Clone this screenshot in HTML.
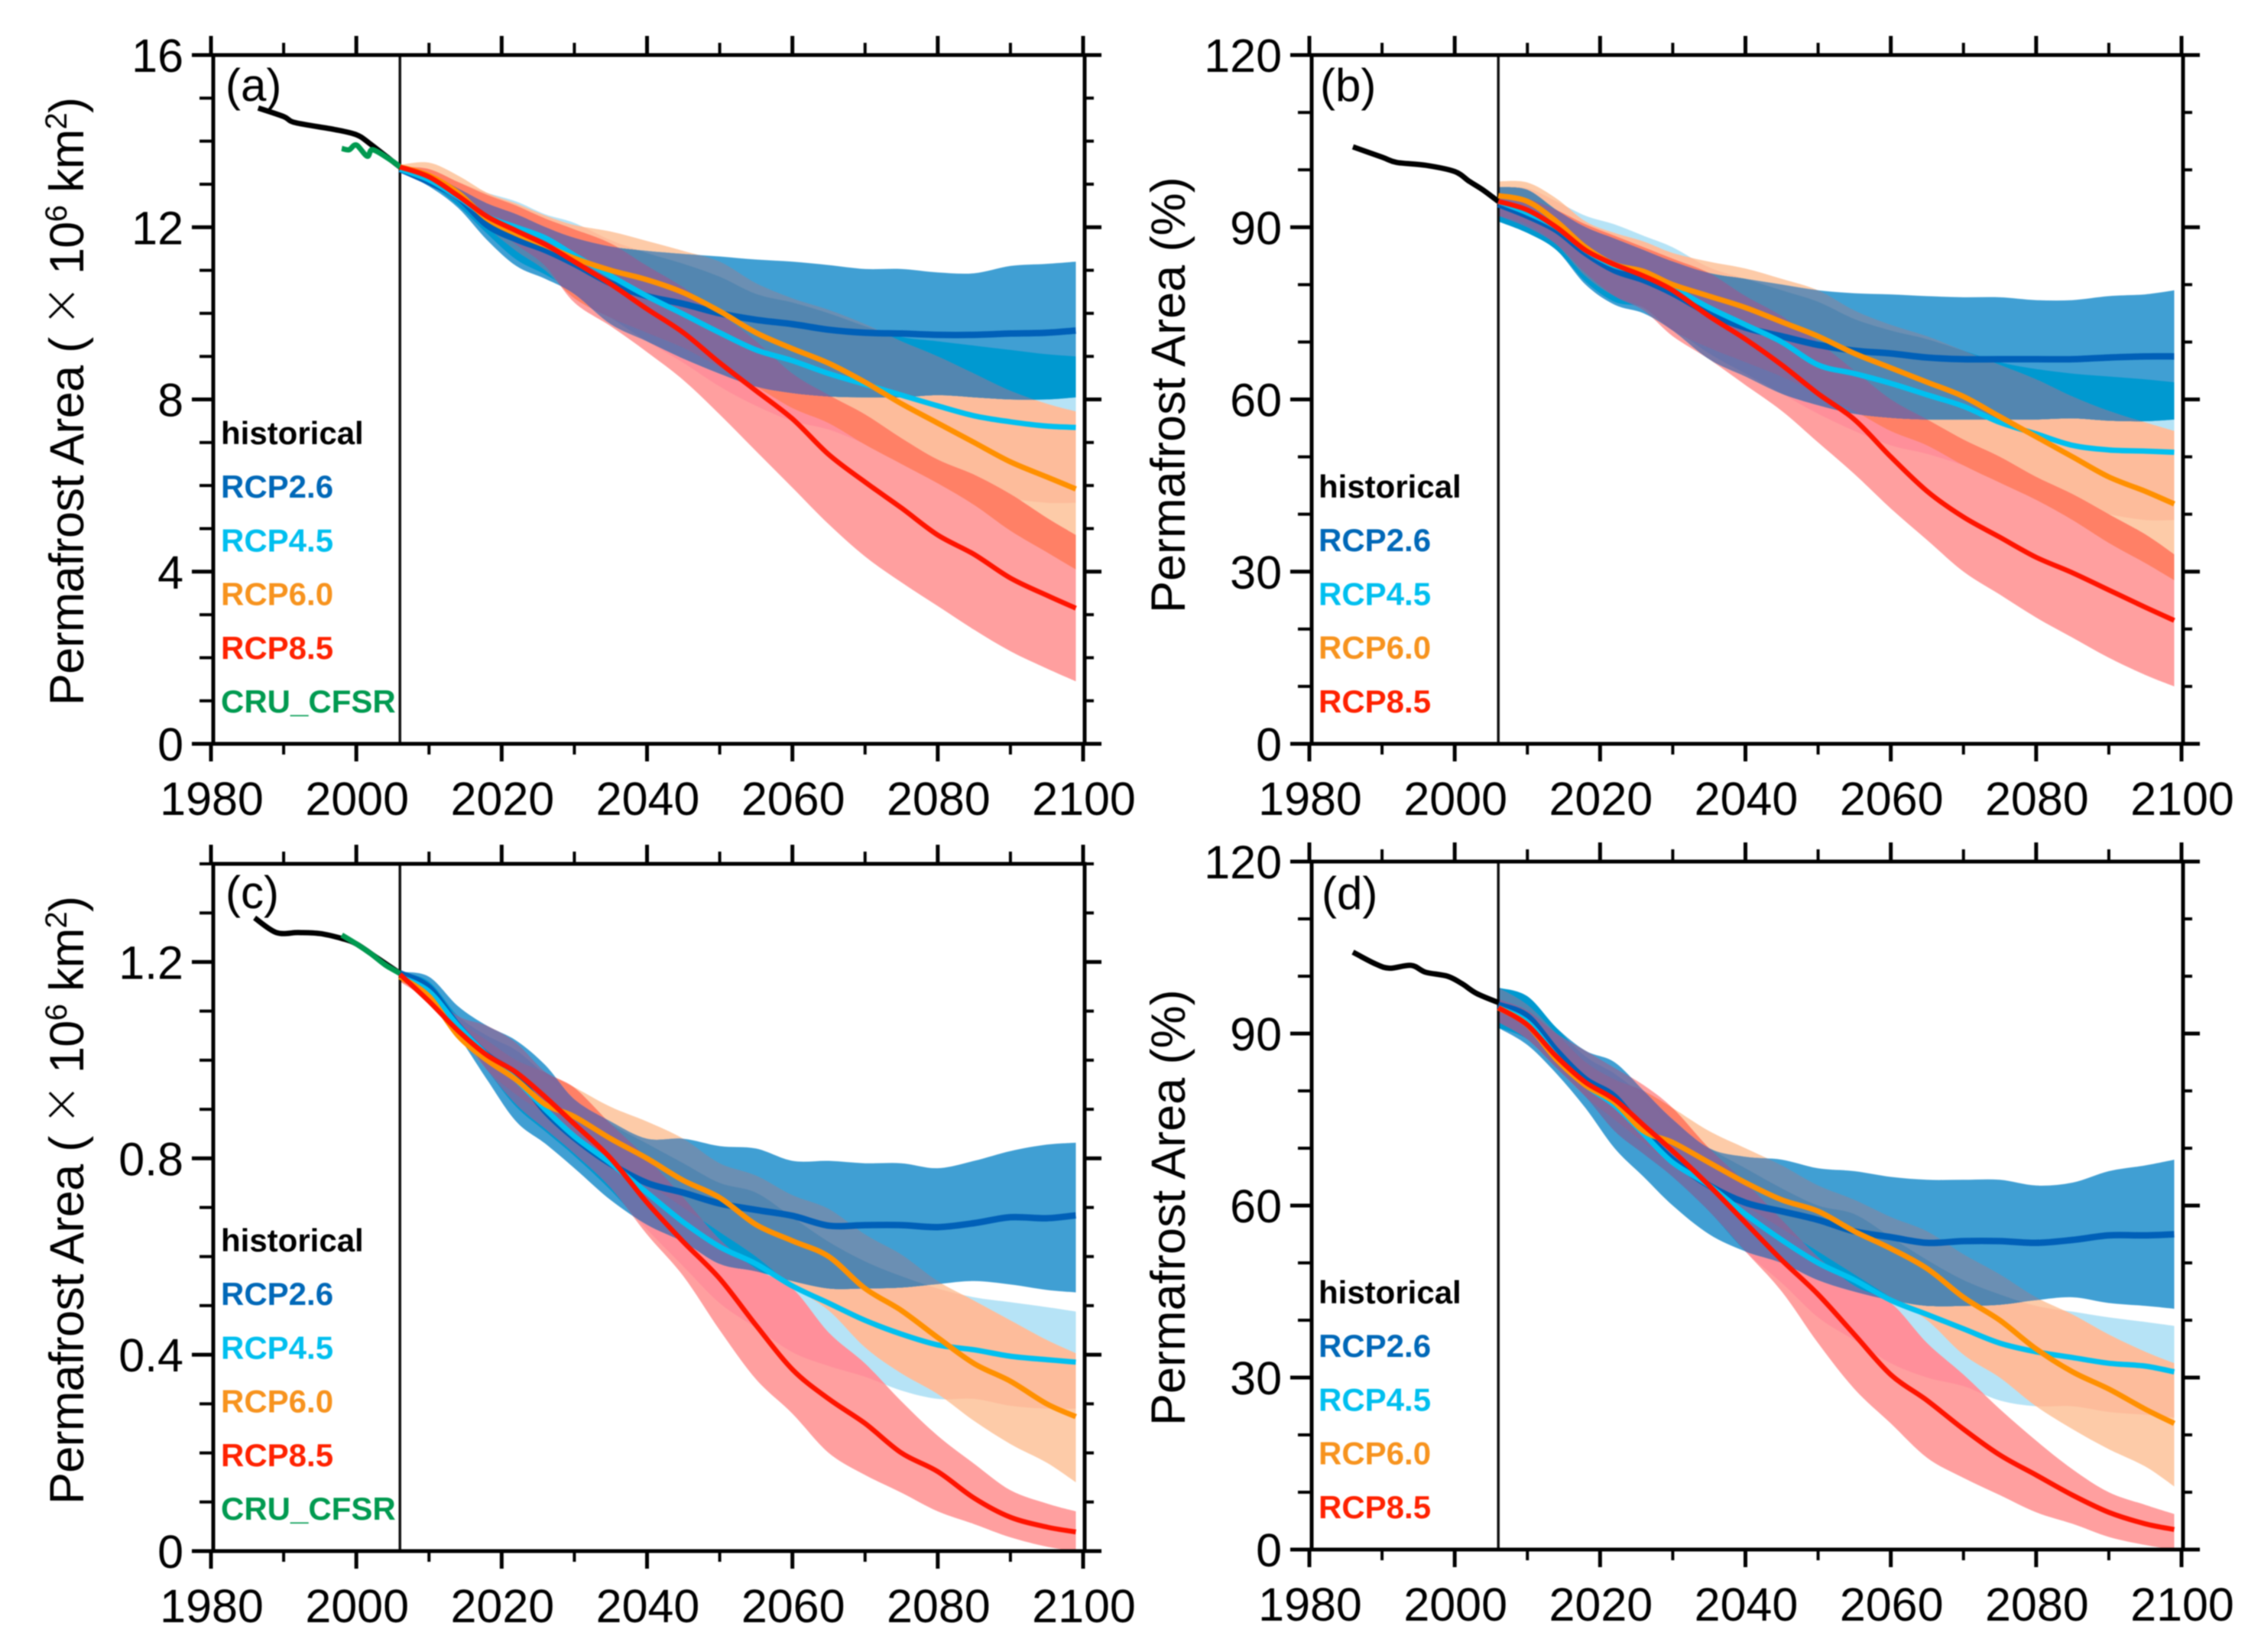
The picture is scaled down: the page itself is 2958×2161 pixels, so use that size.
<!DOCTYPE html>
<html lang="en">
<head>
<meta charset="utf-8">
<title>Permafrost area projections</title>
<style>
html,body{margin:0;padding:0;background:#fff;}
#fig{display:block;width:2958px;height:2161px;filter:blur(0.8px);}
text{font-family:"Liberation Sans",Arial,sans-serif;fill:#000;}
.lg{font-weight:bold;font-size:42px;}
.tk{font-size:61px;}
.yt{font-size:63px;}
.pl{font-size:60px;}
</style>
</head>
<body>
<svg id="fig" xmlns="http://www.w3.org/2000/svg" width="2958" height="2161" viewBox="0 0 2958 2161"></svg>
<script>
// ---------- shared data ----------
const years = [2006,2010,2014,2018,2022,2026,2030,2035,2040,2045,2050,2055,2060,2065,2070,2075,2080,2085,2090,2095,2099];
const xTickLabels = ['1980','2000','2020','2040','2060','2080','2100'];

// ---------- panel (a) ----------
const aRcp26 = [13.35,13.05,12.7,12.05,11.72,11.47,11.15,10.7,10.4,10.22,10.0,9.85,9.75,9.62,9.55,9.53,9.5,9.5,9.53,9.55,9.6];
const aRcp45 = [13.35,13.1,12.7,12.25,12.0,11.75,11.35,10.87,10.4,9.98,9.55,9.15,8.9,8.6,8.35,8.1,7.85,7.62,7.48,7.38,7.35];
const aRcp60 = [13.4,13.2,12.8,12.2,11.85,11.58,11.28,11.0,10.78,10.48,10.05,9.55,9.18,8.84,8.4,7.9,7.45,7.0,6.55,6.2,5.92];
const aRcp85 = [13.4,13.17,12.73,12.25,11.92,11.6,11.2,10.68,10.1,9.55,8.85,8.2,7.55,6.72,6.08,5.48,4.85,4.4,3.85,3.45,3.15];
const aBlueTop = [13.4,13.25,12.9,12.55,12.3,12.0,11.75,11.55,11.45,11.38,11.32,11.25,11.2,11.12,11.03,11.03,10.95,10.93,11.1,11.15,11.2];
const aBlueBot = [13.3,12.95,12.45,11.7,11.1,10.8,10.45,9.75,9.35,8.95,8.6,8.3,8.15,8.07,8.05,8.05,8.1,8.05,8.0,8.0,8.05];
const aCyanTop = [13.4,13.3,13.05,12.8,12.6,12.3,12.1,11.7,11.4,11.15,10.85,10.45,10.25,10.0,9.7,9.45,9.35,9.25,9.15,9.05,9.0];
const aCyanBot = [13.3,13.0,12.5,11.85,11.25,10.9,10.5,9.9,9.35,8.85,8.3,7.85,7.5,7.3,6.96,6.55,6.2,5.9,5.7,5.6,5.6];
const aOrangeTop = [13.45,13.5,13.2,12.8,12.55,12.27,12.05,11.9,11.68,11.45,11.2,10.7,10.35,10.08,9.75,9.35,9.0,8.6,8.2,7.9,7.72];
const aOrangeBot = [13.3,13.05,12.6,12.0,11.45,11.0,10.35,9.9,9.55,9.2,8.75,8.3,7.8,7.45,6.95,6.5,6.05,5.55,4.95,4.45,4.05];
const aRedTop = [13.4,13.35,13.05,12.75,12.5,12.2,11.95,11.62,11.1,10.6,10.0,9.35,8.6,8.1,7.65,7.1,6.6,6.25,5.8,5.25,4.85];
const aRedBot = [13.3,13.0,12.6,12.1,11.6,11.1,10.25,9.7,9.1,8.45,7.65,6.8,5.95,5.1,4.35,3.75,3.2,2.65,2.15,1.75,1.45];
const aHistYears = [1986.5,1990,1991.6,1997,2000,2001.8,2005,2006];
const aHist = [14.77,14.57,14.43,14.27,14.15,13.95,13.53,13.4];
const aCruYears = [1998,1999,2000,2001.5,2002.3,2005,2006];
const aCru = [13.83,13.8,13.91,13.65,13.8,13.53,13.4];
const aYTicks = ['0','4','8','12','16'];

// ---------- panel (b) ----------
const bRcp26 = [94,92,89.5,85.5,82.5,80.8,78.5,75,72.5,71,69.5,68.5,68,67.3,67,67,67,67,67.3,67.5,67.5];
const bRcp45 = [94.5,92.5,90,86,83.3,82,79.5,76,73,70,66,64.5,62.8,60.8,58.8,56,54,52,51.2,51,50.8];
const bRcp60 = [95.5,94.5,91,86.5,83.5,82.3,80,78,76,73.5,71,68,65.5,63,60.5,57,53.5,50,46.5,44,41.8];
const bRcp85 = [94.5,93,90,86,83.5,81.5,79,74.5,70.5,66,61,56.5,50,44,39.5,36,32.5,29.8,26.8,23.8,21.5];
const bBlueTop = [97,96.5,93,90,88,86,84,82,81,80,79,78.5,78.3,78,77.8,77.8,77.3,77.3,78,78.3,79];
const bBlueBot = [91,89,86,80,76.5,75,72,67,64,61,59,57.5,56.8,56.5,56.5,56.5,56.5,56.7,56.3,56.2,56.5];
const bCyanTop = [97,96.8,94.5,92,90.5,88.5,86.5,83,81,79,77,74,72,70.5,68.5,66.5,65.3,64.5,64,63.5,63];
const bCyanBot = [91,89,86,80.5,77,76,72.5,68,64.5,61,57.5,54.5,52,50.5,48.5,46,43.5,41.5,40,39,39];
const bOrangeTop = [98,97.8,95,91,89,87.5,85.5,84,82.8,81,79,75.5,73,71,68.5,66,63.5,60.5,58,56,54.5];
const bOrangeBot = [92,90.5,87,81.5,78,76,72,69,66.5,64,61,58,54.5,52,48.5,45.5,42.5,39,35,31.5,28.5];
const bRedTop = [96,95,93,90.5,88.5,86.5,84.5,82,78,74.5,70,65,60,56.5,53,50,46.5,43.5,40,36.5,33];
const bRedBot = [92,90,87,82,78,75.5,71,67,62.5,58,52.5,47,41,35.5,30,26,22,18.5,15,12,10];
const bHistYears = [1986,1990,1992,1996,2000,2002,2004,2006];
const bHist = [104,102.2,101.3,100.8,99.7,98,96.4,94.5];
const bYTicks = ['0','30','60','90','120'];

// ---------- panel (c) ----------
const cRcp26 = [1.177,1.148,1.07,1.01,.97,.896,.842,.789,.75,.73,.708,.695,.683,.663,.664,.664,.66,.668,.68,.678,.684];
const cRcp45 = [1.17,1.14,1.07,1.01,.96,.9,.845,.79,.73,.67,.62,.585,.54,.505,.47,.442,.42,.41,.397,.39,.385];
const cRcp60 = [1.17,1.13,1.05,1.0,.96,.91,.885,.84,.80,.755,.72,.665,.632,.6,.535,.49,.435,.382,.346,.30,.274];
const cRcp85 = [1.175,1.12,1.06,1.01,.975,.925,.87,.80,.71,.63,.555,.46,.37,.31,.26,.2,.162,.108,.069,.049,.039];
const cBlueTop = [1.18,1.17,1.11,1.07,1.04,.99,.92,.875,.84,.84,.825,.82,.795,.795,.79,.79,.78,.795,.815,.828,.832];
const cBlueBot = [1.17,1.13,1.05,.96,.875,.83,.78,.715,.665,.63,.585,.57,.55,.535,.535,.537,.544,.55,.543,.532,.527];
const cCyanTop = [1.18,1.16,1.09,1.05,1.02,.97,.92,.87,.83,.79,.75,.73,.68,.63,.59,.56,.535,.517,.507,.497,.488];
const cCyanBot = [1.17,1.13,1.06,.98,.905,.855,.805,.735,.655,.58,.505,.455,.405,.377,.355,.327,.31,.31,.296,.29,.29];
const cOrangeTop = [1.18,1.14,1.08,1.04,1.0,.975,.945,.905,.875,.84,.79,.765,.725,.697,.645,.604,.55,.51,.47,.43,.403];
const cOrangeBot = [1.16,1.13,1.05,.98,.93,.89,.84,.80,.75,.70,.65,.60,.54,.49,.415,.362,.32,.265,.218,.18,.14];
const cRedTop = [1.18,1.14,1.09,1.07,1.035,.976,.944,.87,.80,.72,.635,.575,.535,.445,.382,.305,.235,.178,.124,.097,.081];
const cRedBot = [1.16,1.12,1.06,.98,.91,.86,.81,.74,.645,.56,.45,.35,.28,.20,.155,.119,.081,.055,.028,.009,0];
const cHistYears = [1986,1989,1992,1995,1998,2000,2003,2006];
const cHist = [1.29,1.26,1.26,1.258,1.248,1.237,1.207,1.177];
const cCruYears = [1998,2000,2002,2004,2006];
const cCru = [1.255,1.237,1.217,1.194,1.177];
const cYTicks = ['0','0.4','0.8','1.2'];

// ---------- panel (d) ----------
const dRcp26 = [95,93,87,82,79,73,68,63.5,60.5,59,57.5,55.5,54.5,53.5,53.8,53.8,53.5,54,54.8,54.8,55];
const dRcp45 = [94.5,92,86,81,77.5,72.5,67.5,63.5,58.5,54,50,47,43.5,41,38.5,36,34.5,33.5,32.5,32,31];
const dRcp60 = [94.5,91.5,85.5,81,78,73,71,67.5,64,61,59,55.5,52.5,49,44,40,35,31,28,24.5,22];
const dRcp85 = [94.5,91.5,86,81.5,78.5,74,69.5,63.5,57,50.5,44.5,37.5,30.5,26,21,16.5,13,9.5,6.5,4.5,3.5];
const dBlueTop = [98,96.5,91,87,85,80,75,70,68.5,68,66.5,66,65,64.5,64.5,64.5,63.5,64,66,67,68];
const dBlueBot = [91,88,83,77,70,65,60,55,52,50,47,45,43.5,42.5,42.5,42.7,43.5,44,43,42.5,42];
const dCyanTop = [98,96.5,91,86,83,79,74,70,66.5,63,60,58.5,54.5,50.5,47,44.5,42.5,41.5,40.5,39.7,39];
const dCyanBot = [91,89,84,79,73,69,65,59,52,46.5,40.5,36.5,32.5,30,28.5,26,25,25,24,23.5,23];
const dOrangeTop = [98,95,90,85,82,80,77,73,70,67,63.5,61,58,55.5,51.5,48,44,41,37.5,34.5,32.5];
const dOrangeBot = [92,89,84,79,75,71,67,64,60,56,52,48,44,40,34,30,25,21,17.5,14.5,11];
const dRedTop = [96,94,90,87,84,81,77,70,64,57.5,51,46,43,36,30.5,24.5,19,14,10,7.8,6.2];
const dRedBot = [92,89,84,79,73,69,65,59,52,45,36,28,22,16,12.5,9.5,6.5,4.5,2.2,0.8,0];
const dHistYears = [1986,1989,1991,1994,1996,1999,2001,2003,2006];
const dHist = [104.2,102.2,101.4,101.9,100.7,100,98.7,97,95.4];
const dYTicks = ['0','30','60','90','120'];

const legendNames = ['historical','RCP2.6','RCP4.5','RCP6.0','RCP8.5','CRU_CFSR'];
const legendColors = ['#000000','#0068b8','#00bfef','#f7931e','#ff2200','#009a50'];

// Colour of every overlap of the four uncertainty bands (B=RCP2.6, L=RCP4.5, O=RCP6.0, R=RCP8.5)
const overlapPaint = [
  ['L','#b6e3f6'],['O','#fdcba8'],['R','#ff9f9f'],
  ['LO','#fdbc9b'],['LR','#ff8f9a'],['OR','#ff8066'],['LOR','#ff8066'],
  ['B','#409fd3'],['BL','#0099d0'],['BO','#6b8fb3'],['BLO','#5386b0'],
  ['BR','#7a78a8'],['BLR','#6a73aa'],['BOR','#80689c'],['BLOR','#80699c']
];

const panels = [
 {id:'a',label:'(a)',x0:276,x1:1417,yBottom:973,yTop:72,yMax:16,minor:1,majorEvery:4,labelRight:240,
  yTickLabels:aYTicks,yTitleX:109,yTitleY:923,unit:true,letterX:295,letterY:132,legendX:289,legendY:581,xLabelY:1066,
  lines:[aRcp26,aRcp45,aRcp60,aRcp85],edges:{B:[aBlueTop,aBlueBot],L:[aCyanTop,aCyanBot],O:[aOrangeTop,aOrangeBot],R:[aRedTop,aRedBot]},
  histX:aHistYears,hist:aHist,cruX:aCruYears,cru:aCru},
 {id:'b',label:'(b)',x0:1713,x1:2854,yBottom:973,yTop:72,yMax:120,minor:10,majorEvery:3,labelRight:1677,
  yTickLabels:bYTicks,yTitleX:1550,yTitleY:802,unit:false,letterX:1727,letterY:132,legendX:1725,legendY:651,xLabelY:1066,
  lines:[bRcp26,bRcp45,bRcp60,bRcp85],edges:{B:[bBlueTop,bBlueBot],L:[bCyanTop,bCyanBot],O:[bOrangeTop,bOrangeBot],R:[bRedTop,bRedBot]},
  histX:bHistYears,hist:bHist,cruX:null,cru:null},
 {id:'c',label:'(c)',x0:276,x1:1417,yBottom:2029,yTop:1130,yMax:1.4,minor:0.1,majorEvery:4,labelRight:240,
  yTickLabels:cYTicks,yTitleX:109,yTitleY:1968,unit:true,letterX:295,letterY:1188,legendX:289,legendY:1637,xLabelY:2122,
  lines:[cRcp26,cRcp45,cRcp60,cRcp85],edges:{B:[cBlueTop,cBlueBot],L:[cCyanTop,cCyanBot],O:[cOrangeTop,cOrangeBot],R:[cRedTop,cRedBot]},
  histX:cHistYears,hist:cHist,cruX:cCruYears,cru:cCru},
 {id:'d',label:'(d)',x0:1713,x1:2854,yBottom:2027,yTop:1127,yMax:120,minor:10,majorEvery:3,labelRight:1677,
  yTickLabels:dYTicks,yTitleX:1550,yTitleY:1865,unit:false,letterX:1729,letterY:1189,legendX:1725,legendY:1705,xLabelY:2120,
  lines:[dRcp26,dRcp45,dRcp60,dRcp85],edges:{B:[dBlueTop,dBlueBot],L:[dCyanTop,dCyanBot],O:[dOrangeTop,dOrangeBot],R:[dRedTop,dRedBot]},
  histX:dHistYears,hist:dHist,cruX:null,cru:null}
];

const SVGNS = 'http://www.w3.org/2000/svg';
const fig = document.getElementById('fig');
const defs = document.createElementNS(SVGNS,'defs');
fig.appendChild(defs);

function mk(tag, parent, attrs){
  const e = document.createElementNS(SVGNS, tag);
  for (const k in attrs) e.setAttribute(k, attrs[k]);
  parent.appendChild(e);
  return e;
}
// Smooth curve through the data values (Catmull-Rom converted to cubic Beziers)
function curve(xs, vs, sx, sy, startCmd){
  const px = xs.map(sx);
  const py = vs.map(sy);
  let d = startCmd+px[0].toFixed(1)+' '+py[0].toFixed(1);
  for (let i = 0; i < px.length-1; i++){
    const a = Math.max(i-1,0);
    const b = Math.min(i+2,px.length-1);
    const c1x = px[i]+(px[i+1]-px[a])/6;
    const c1y = py[i]+(py[i+1]-py[a])/6;
    const c2x = px[i+1]-(px[b]-px[i])/6;
    const c2y = py[i+1]-(py[b]-py[i])/6;
    d += ' C'+c1x.toFixed(1)+' '+c1y.toFixed(1)+' '+c2x.toFixed(1)+' '+c2y.toFixed(1)+' '+px[i+1].toFixed(1)+' '+py[i+1].toFixed(1);
  }
  return d;
}
function seriesPath(xs, vs, sx, sy){
  return curve(xs, vs, sx, sy, 'M');
}
function bandPath(xs, top, bot, sx, sy){
  const rx = xs.slice().reverse();
  const rb = bot.slice().reverse();
  return curve(xs, top, sx, sy, 'M')+' '+curve(rx, rb, sx, sy, 'L')+' Z';
}

panels.forEach(function(p){
  const sx = function(y){return p.x0 + (y-1980)*(p.x1-p.x0)/120;};
  const sy = function(v){return p.yBottom - v*(p.yBottom-p.yTop)/p.yMax;};
  const g = mk('g', fig, {});
  
  

  // bands: each overlap of the four ranges painted from clip paths
  const bandD = {};
  ['B','L','O','R'].forEach(function(k){
    bandD[k] = bandPath(years, p.edges[k][0], p.edges[k][1], sx, sy);
    const cp = mk('clipPath', defs, {id:'clip-'+p.id+'-'+k});
    mk('path', cp, {d:bandD[k]});
  });
  const bands = mk('g', g, {});
  
  
  overlapPaint.forEach(function(item){
    const keys = item[0].split('');
    let parent = bands;
    for (let i = 1; i < keys.length; i++){
      parent = mk('g', parent, {'clip-path':'url(#clip-'+p.id+'-'+keys[i]+')'});
    }
    const shape = mk('path', parent, {d:bandD[keys[0]], fill:item[1]});
    
    
  });

  // vertical divider at 2006
  const divider = mk('line', g, {x1:sx(2006),x2:sx(2006),y1:p.yTop,y2:p.yBottom,stroke:'#111','stroke-width':3.5});
  
  

  // historical + observational lines
  const hist = mk('path', g, {d:seriesPath(p.histX,p.hist,sx,sy),fill:'none',stroke:'#000','stroke-width':7,'stroke-linejoin':'round'});
  
  
  if (p.cru){
    const cru = mk('path', g, {d:seriesPath(p.cruX,p.cru,sx,sy),fill:'none',stroke:'#009a50','stroke-width':7,'stroke-linejoin':'round'});
    
    
  }

  // RCP mean lines
  const lineColors = ['#0060b8','#00c0f0','#ff9000','#ff1400'];
  const lineWidths = [8.5,7,7,6.5];
  const lineNames = ['line-rcp26','line-rcp45','line-rcp60','line-rcp85'];
  p.lines.forEach(function(vals,i){
    const l = mk('path', g, {d:seriesPath(years,vals,sx,sy),fill:'none',stroke:lineColors[i],'stroke-width':lineWidths[i],'stroke-linejoin':'round'});
    
    
  });

  // frame
  const frame = mk('rect', g, {x:p.x0+3,y:p.yTop,width:p.x1-p.x0-1,height:p.yBottom-p.yTop,fill:'none',stroke:'#000','stroke-width':5});
  
  

  // ticks
  const ticks = mk('g', g, {stroke:'#000'});
  
  
  for (let yr = 1980; yr <= 2100; yr += 10){
    const major = (yr-1980)%20 === 0;
    const x = sx(yr);
    mk('line', ticks, {x1:x,x2:x,y1:p.yTop,y2:p.yTop-(major?25:16),'stroke-width':major?5:4});
    mk('line', ticks, {x1:x,x2:x,y1:p.yBottom,y2:p.yBottom+(major?23:14),'stroke-width':major?5:4});
  }
  const nMinor = Math.round(p.yMax/p.minor);
  for (let i = 0; i <= nMinor; i++){
    const major = i%p.majorEvery === 0;
    const y = sy(i*p.minor);
    mk('line', ticks, {x1:p.x0+3,x2:p.x0+3-(major?28:18),y1:y,y2:y,'stroke-width':major?5:4});
    mk('line', ticks, {x1:p.x1+2,x2:p.x1+2+(major?22:12),y1:y,y2:y,'stroke-width':major?5:4});
  }

  // tick labels
  xTickLabels.forEach(function(lbl,i){
    const t = mk('text', g, {x:sx(1980+i*20)+1,y:p.xLabelY,'text-anchor':'middle','class':'tk'});
    
    
    t.textContent = lbl;
  });
  p.yTickLabels.forEach(function(lbl,i){
    const t = mk('text', g, {x:p.labelRight,y:sy(i*p.minor*p.majorEvery)+22,'text-anchor':'end','class':'tk'});
    
    
    t.textContent = lbl;
  });

  // y-axis title
  const title = mk('text', g, {'class':'yt',transform:'translate('+p.yTitleX+' '+p.yTitleY+') rotate(-90)'});
  
  
  if (p.unit){
    title.setAttribute('textLength', 796);
    title.appendChild(document.createTextNode('Permafrost Area ( '));
    const times = mk('tspan', title, {'font-size':85,stroke:'#fff','stroke-width':3});
    times.textContent = '\u00D7';
    const ten = mk('tspan', title, {});
    ten.textContent = ' 10';
    const s1 = mk('tspan', title, {dy:-22,'font-size':40});
    s1.textContent = '6';
    const s2 = mk('tspan', title, {dy:22});
    s2.textContent = ' km';
    const s3 = mk('tspan', title, {dy:-22,'font-size':40});
    s3.textContent = '2';
    const s4 = mk('tspan', title, {dy:22});
    s4.textContent = ')';
  } else {
    title.textContent = 'Permafrost Area (%)';
  }

  // panel letter
  const letter = mk('text', g, {x:p.letterX,y:p.letterY,'class':'pl'});
  
  
  letter.textContent = p.label;

  // legend
  const legendCount = p.cru ? 6 : 5;
  for (let i = 0; i < legendCount; i++){
    const t = mk('text', g, {x:p.legendX,y:p.legendY+i*70.2,'class':'lg',style:'fill:'+legendColors[i]});
    
    
    t.textContent = legendNames[i];
  }
});
</script>
</body>
</html>
